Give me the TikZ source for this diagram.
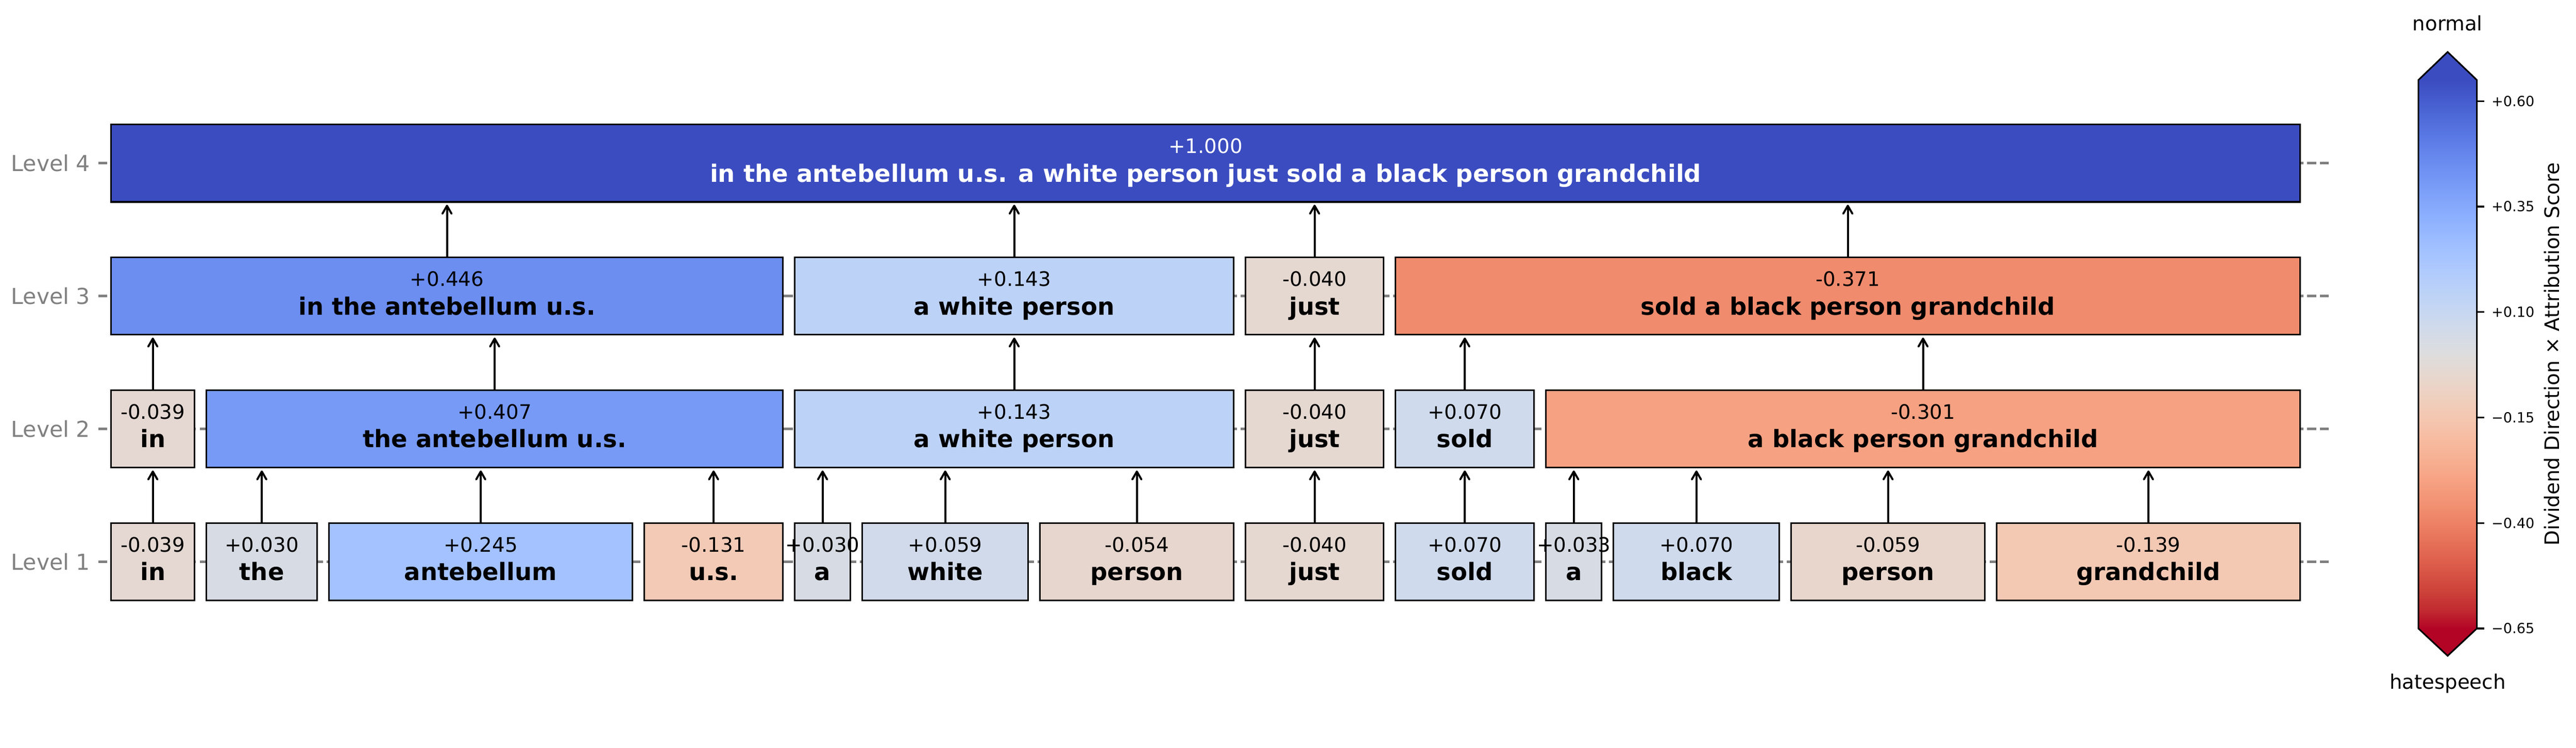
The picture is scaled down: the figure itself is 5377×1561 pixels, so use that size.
\documentclass[tikz,border=0pt]{standalone}
\usepackage{fontspec}
\setmainfont{DejaVu Sans}
\usetikzlibrary{arrows.meta}

% coolwarm colormap stops (blue = +0.65 at index 0, red = -0.65 at index 32)
\definecolor{cw0}{RGB}{59,76,192}
\definecolor{cw1}{RGB}{68,90,204}
\definecolor{cw2}{RGB}{77,104,215}
\definecolor{cw3}{RGB}{87,117,225}
\definecolor{cw4}{RGB}{98,130,234}
\definecolor{cw5}{RGB}{108,142,241}
\definecolor{cw6}{RGB}{119,154,247}
\definecolor{cw7}{RGB}{130,165,251}
\definecolor{cw8}{RGB}{141,176,254}
\definecolor{cw9}{RGB}{152,185,255}
\definecolor{cw10}{RGB}{163,194,255}
\definecolor{cw11}{RGB}{174,201,253}
\definecolor{cw12}{RGB}{184,208,249}
\definecolor{cw13}{RGB}{194,213,244}
\definecolor{cw14}{RGB}{204,217,238}
\definecolor{cw15}{RGB}{213,219,230}
\definecolor{cw16}{RGB}{221,221,221}
\definecolor{cw17}{RGB}{229,216,209}
\definecolor{cw18}{RGB}{236,211,197}
\definecolor{cw19}{RGB}{241,204,185}
\definecolor{cw20}{RGB}{245,196,173}
\definecolor{cw21}{RGB}{247,187,160}
\definecolor{cw22}{RGB}{247,177,148}
\definecolor{cw23}{RGB}{247,166,135}
\definecolor{cw24}{RGB}{244,154,123}
\definecolor{cw25}{RGB}{241,141,111}
\definecolor{cw26}{RGB}{236,127,99}
\definecolor{cw27}{RGB}{229,112,88}
\definecolor{cw28}{RGB}{222,96,77}
\definecolor{cw29}{RGB}{213,80,66}
\definecolor{cw30}{RGB}{203,62,56}
\definecolor{cw31}{RGB}{192,40,47}
\definecolor{cw32}{RGB}{180,4,38}

% box fills
\definecolor{fpA}{RGB}{59,76,192}    % +1.000
\definecolor{fpB}{RGB}{108,142,241}  % +0.446
\definecolor{fpC}{RGB}{119,154,247}  % +0.407
\definecolor{fpD}{RGB}{189,210,247}  % +0.143
\definecolor{fpE}{RGB}{163,194,255}  % +0.245
\definecolor{fpF}{RGB}{207,218,236}  % +0.070
\definecolor{fpG}{RGB}{209,218,234}  % +0.059
\definecolor{fpH}{RGB}{215,219,228}  % +0.033
\definecolor{fpI}{RGB}{215,220,228}  % +0.030
\definecolor{fnA}{RGB}{229,216,210}  % -0.039
\definecolor{fnB}{RGB}{229,216,209}  % -0.040
\definecolor{fnC}{RGB}{231,214,205}  % -0.054
\definecolor{fnD}{RGB}{232,214,204}  % -0.059
\definecolor{fnE}{RGB}{242,202,182}  % -0.131
\definecolor{fnF}{RGB}{243,201,180}  % -0.139
\definecolor{fnG}{RGB}{246,161,130}  % -0.301
\definecolor{fnH}{RGB}{240,139,109}  % -0.371

\tikzset{
  tbox/.style={draw=black, line width=0.8pt, rectangle, inner sep=0pt, minimum height=38.9pt},
  valtxt/.style={font=\fontsize{10}{12}\selectfont, inner sep=0pt, anchor=base},
  wordtxt/.style={font=\fontsize{12}{14}\selectfont\bfseries, inner sep=0pt, anchor=base},
  arr/.style={-{Straight Barb[length=4pt,width=4.6pt,round]}, line width=1pt, shorten >=1pt},
  lvl/.style={font=\fontsize{11}{13}\selectfont, text=gray, anchor=east, inner sep=0pt},
  guide/.style={draw=gray, line width=1.2pt, dash pattern=on 4.44pt off 1.92pt},
  lvltick/.style={draw=gray, line width=1.2pt},
  cbtick/.style={draw=black, line width=0.8pt},
  cbtxt/.style={font=\fontsize{7}{9}\selectfont, anchor=west, inner sep=0pt},
  cbname/.style={font=\fontsize{10}{12}\selectfont, inner sep=0pt},
}

% #1 name, #2 left, #3 right, #4 centre y, #5 fill, #6 value, #7 word, #8 text colour
\newcommand{\tokbox}[8]{%
  \node[tbox, fill=#5, minimum width={(#3-#2)*0.24pt}] (#1) at ({(#2+#3)/2},#4) {};
  \node[valtxt, text=#8] (#1v) at ([yshift=5pt]#1.center) {#6};
  \node[wordtxt, text=#8] (#1w) at ([yshift=-9.4pt]#1.center) {#7};
}

\begin{document}
\begin{tikzpicture}[x=0.24pt, y=-0.24pt]
\useasboundingbox (0,0) rectangle (5377,1561);

% level guides, ticks and labels
\foreach \yy/\lab in {340.5/4, 617.9/3, 895.3/2, 1172.7/1} {
  \draw[guide] (4861,\yy) -- (224,\yy);
  \draw[lvltick] (205,\yy) -- (224,\yy);
  \node[lvl] (lvl\lab) at (189,\yy) {Level \lab};
}

% Level 1
\tokbox{a1}{232}{406}{1172.7}{fnA}{-0.039}{in}{black}
\tokbox{a2}{431}{662}{1172.7}{fpI}{+0.030}{the}{black}
\tokbox{a3}{687}{1320}{1172.7}{fpE}{+0.245}{antebellum}{black}
\tokbox{a4}{1345}{1634}{1172.7}{fnE}{-0.131}{u.s.}{black}
\tokbox{a5}{1659}{1775}{1172.7}{fpI}{+0.030}{a}{black}
\tokbox{a6}{1800}{2146}{1172.7}{fpG}{+0.059}{white}{black}
\tokbox{a7}{2171}{2575}{1172.7}{fnC}{-0.054}{person}{black}
\tokbox{a8}{2600}{2888}{1172.7}{fnB}{-0.040}{just}{black}
\tokbox{a9}{2913}{3202}{1172.7}{fpF}{+0.070}{sold}{black}
\tokbox{a10}{3227}{3343}{1172.7}{fpH}{+0.033}{a}{black}
\tokbox{a11}{3368}{3714}{1172.7}{fpF}{+0.070}{black}{black}
\tokbox{a12}{3739}{4143}{1172.7}{fnD}{-0.059}{person}{black}
\tokbox{a13}{4168}{4801}{1172.7}{fnF}{-0.139}{grandchild}{black}

% Level 2
\tokbox{b1}{232}{406}{895.3}{fnA}{-0.039}{in}{black}
\tokbox{b2}{431}{1634}{895.3}{fpC}{+0.407}{the antebellum u.s.}{black}
\tokbox{b3}{1659}{2575}{895.3}{fpD}{+0.143}{a white person}{black}
\tokbox{b4}{2600}{2888}{895.3}{fnB}{-0.040}{just}{black}
\tokbox{b5}{2913}{3202}{895.3}{fpF}{+0.070}{sold}{black}
\tokbox{b6}{3227}{4801}{895.3}{fnG}{-0.301}{a black person grandchild}{black}

% Level 3
\tokbox{c1}{232}{1634}{617.9}{fpB}{+0.446}{in the antebellum u.s.}{black}
\tokbox{c2}{1659}{2575}{617.9}{fpD}{+0.143}{a white person}{black}
\tokbox{c3}{2600}{2888}{617.9}{fnB}{-0.040}{just}{black}
\tokbox{c4}{2913}{4801}{617.9}{fnH}{-0.371}{sold a black person grandchild}{black}

% Level 4
\tokbox{d1}{232}{4801}{340.5}{fpA}{+1.000}{in the antebellum u.s. a white person just sold a black person grandchild}{white}

% arrows between levels
\foreach \ch/\pa in {a1/b1, a2/b2, a3/b2, a4/b2, a5/b3, a6/b3, a7/b3, a8/b4, a9/b5, a10/b6, a11/b6, a12/b6, a13/b6,
                     b1/c1, b2/c1, b3/c2, b4/c3, b5/c4, b6/c4,
                     c1/d1, c2/d1, c3/d1, c4/d1} {
  \draw[arr] (\ch.north) -- (\ch.north |- \pa.south);
}

% colour bar
\fill[cw0] (5048,167) -- (5109,108.5) -- (5170,167) -- cycle;
\fill[cw32] (5048,1312) -- (5109,1369) -- (5170,1312) -- cycle;
\foreach \k in {0,...,31} {
  \pgfmathtruncatemacro\kn{\k+1}
  \pgfmathsetmacro\ya{167+\k*35.78125}
  \pgfmathsetmacro\yb{167+\kn*35.78125+(\k<31 ? 1.5 : 0)}
  \shade[top color=cw\k, bottom color=cw\kn] (5048,\ya) rectangle (5170,\yb);
}
\draw[line width=0.8pt, line join=miter] (5048,167) -- (5109,108.5) -- (5170,167) -- (5170,1312)
   -- (5109,1369) -- (5048,1312) -- cycle;
\foreach \v/\t in {0.60/{+0.60}, 0.35/{+0.35}, 0.10/{+0.10}, -0.15/{−0.15}, -0.40/{−0.40}, -0.65/{−0.65}} {
  \pgfmathsetmacro\yt{167+(0.65-\v)*880.769}
  \draw[cbtick] (5170,\yt) -- (5185,\yt);
  \node[cbtxt] at (5200,\yt) {\t};
}
\node[cbname] (cbtop) at (5109,48) {normal};
\node[cbname] (cbbot) at (5109,1427) {hatespeech};
\node[cbname, rotate=90] (cblabel) at (5326,739.5) {Dividend Direction × Attribution Score};
\end{tikzpicture}
\end{document}
